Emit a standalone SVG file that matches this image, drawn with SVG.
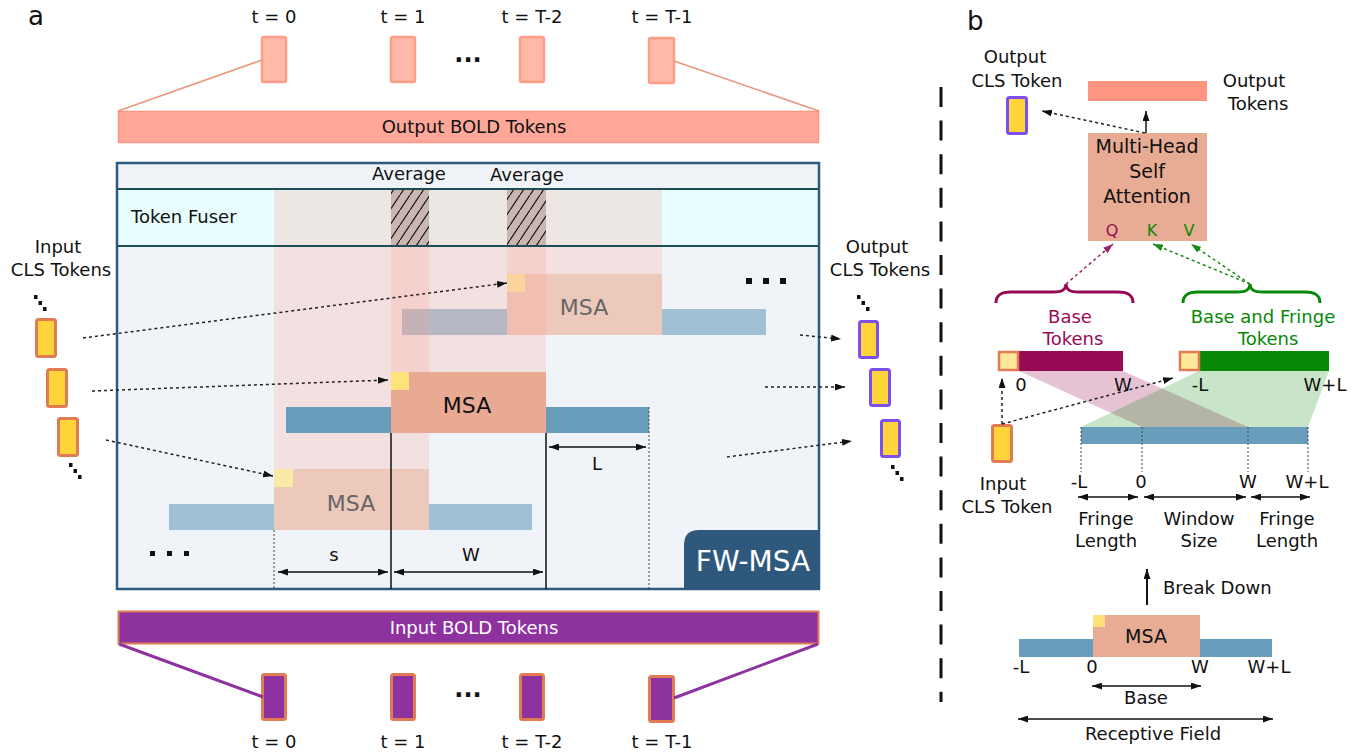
<svg xmlns="http://www.w3.org/2000/svg" width="1367" height="754" viewBox="0 0 1367 754">
<defs>
<style>
text{font-family:"DejaVu Sans",Verdana,sans-serif;font-size:18px;fill:#111;}
.c{text-anchor:middle}
.tokTop{fill:#ffb9a9;stroke:#ff9d88;stroke-width:2.5}
.tokIn{fill:#8e32a0;stroke:#e07b54;stroke-width:3}
.clsIn{fill:#ffd43b;stroke:#e07b54;stroke-width:3}
.clsOut{fill:#ffd43b;stroke:#7b4ff0;stroke-width:3}
.dot{fill:none;stroke:#222;stroke-width:1.5;stroke-dasharray:3 3}
.dim{fill:none;stroke:#111;stroke-width:1.5}
.vdot{fill:none;stroke:#444;stroke-width:1;stroke-dasharray:2 2}
.col{fill:#ff9a8c;fill-opacity:0.22}
.blue{fill:#689ebc}
.blueF{fill:#a2c0d3}
.msa{fill:#e8aa93}
.msaF{fill:#edc9bc}
.sq{fill:#111}
</style>
<marker id="ah" viewBox="0 0 10 7" refX="10" refY="3.5" markerWidth="10" markerHeight="7" markerUnits="userSpaceOnUse" orient="auto-start-reverse"><path d="M0,0 L10,3.5 L0,7 z" fill="#111"/></marker>
<marker id="ahP" viewBox="0 0 10 7" refX="10" refY="3.5" markerWidth="10" markerHeight="7" markerUnits="userSpaceOnUse" orient="auto"><path d="M0,0 L10,3.5 L0,7 z" fill="#a0206a"/></marker>
<marker id="ahG" viewBox="0 0 10 7" refX="10" refY="3.5" markerWidth="10" markerHeight="7" markerUnits="userSpaceOnUse" orient="auto"><path d="M0,0 L10,3.5 L0,7 z" fill="#1a8a1a"/></marker>
<pattern id="hatch" patternUnits="userSpaceOnUse" width="10" height="15"><rect width="10" height="15" fill="#c9b6b0"/><path d="M0,15 L10,0" stroke="#111" stroke-width="1.2"/></pattern>
</defs>
<rect width="1367" height="754" fill="#ffffff"/>

<!-- Panel a -->
<text x="28" y="25" style="font-size:26px">a</text>

<g id="output-time-tokens">
<rect class="tokTop" x="262" y="37" width="24" height="45" rx="2"/>
<rect class="tokTop" x="391" y="37" width="24" height="45" rx="2"/>
<rect class="tokTop" x="520" y="37" width="24" height="45" rx="2"/>
<rect class="tokTop" x="649" y="38" width="25" height="45" rx="2"/>
<text class="c" x="274" y="23">t = 0</text>
<text class="c" x="403" y="23">t = 1</text>
<text class="c" x="532" y="23">t = T-2</text>
<text class="c" x="662" y="23">t = T-1</text>
<text class="c" x="468" y="62" style="font-size:24px;font-weight:bold">...</text>
</g>

<g id="output-bold-tokens">
<rect x="118.5" y="111.5" width="700" height="31" fill="#ffa899" stroke="#ff9580" stroke-width="1.5"/>
<text class="c" x="474" y="133">Output BOLD Tokens</text>
</g>

<g id="fw-msa-block">
<rect x="117" y="163" width="702" height="426" fill="#f0f4f8"/>
<rect x="117" y="189" width="702" height="57" fill="#e8fdfd"/>
<!-- faded top MSA -->
<rect class="blueF" x="402" y="309" width="105" height="26"/>
<rect class="blueF" x="662" y="309" width="104" height="26"/>
<rect class="msaF" x="507" y="274" width="155" height="61"/>
<rect x="507" y="274" width="18" height="18" fill="#fbe3a0"/>
<!-- faded bottom MSA -->
<rect class="blueF" x="169" y="504" width="105" height="26"/>
<rect class="blueF" x="429" y="504" width="103" height="26"/>
<rect class="msaF" x="274" y="469" width="155" height="61"/>
<rect x="274" y="469" width="19" height="18" fill="#f9eaa8"/>
<!-- columns -->
<rect class="col" x="274" y="189" width="155" height="280"/>
<rect class="col" x="391" y="189" width="155" height="183"/>
<rect class="col" x="507" y="189" width="155" height="85"/>
<!-- middle MSA -->
<rect class="blue" x="286" y="407" width="105" height="26"/>
<rect class="blue" x="546" y="407" width="103" height="26"/>
<rect class="msa" x="391" y="372" width="155" height="61"/>
<rect x="391" y="372" width="18" height="18" fill="#ffe27a"/>
<!-- hatched averages -->
<rect x="391" y="189" width="38" height="57" fill="url(#hatch)"/>
<rect x="507" y="189" width="39" height="57" fill="url(#hatch)"/>
<rect x="117" y="189" width="702" height="57" fill="none" stroke="#1c4e55" stroke-width="2"/>
<rect x="117" y="163" width="702" height="426" fill="none" stroke="#2f5a7f" stroke-width="2.5"/>
<path d="M684,590 L684,545 Q684,530 699,530 L820,530 L820,590 Z" fill="#2e597c"/>
<text class="c" x="753" y="571" style="font-size:28px;fill:#ffffff">FW-MSA</text>
<text x="131" y="223">Token Fuser</text>
<text class="c" x="409" y="180">Average</text>
<text class="c" x="527" y="181">Average</text>
<text class="c" x="467" y="413" style="font-size:22px">MSA</text>
<text class="c" x="584" y="315" style="font-size:22px;fill:#666">MSA</text>
<text class="c" x="351" y="511" style="font-size:22px;fill:#666">MSA</text>
<rect class="sq" x="150" y="551" width="5" height="5"/>
<rect class="sq" x="167" y="551" width="5" height="5"/>
<rect class="sq" x="184" y="551" width="5" height="5"/>
<rect class="sq" x="746" y="278" width="6" height="6"/>
<rect class="sq" x="763" y="278" width="6" height="6"/>
<rect class="sq" x="780" y="278" width="6" height="6"/>
</g>

<g id="dimensions">
<line x1="391" y1="433" x2="391" y2="589" stroke="#111" stroke-width="1.5"/>
<line x1="546" y1="433" x2="546" y2="589" stroke="#111" stroke-width="1.5"/>
<line class="vdot" x1="274" y1="530" x2="274" y2="589"/>
<line class="vdot" x1="649" y1="407" x2="649" y2="589"/>
<line class="dim" x1="278" y1="572" x2="388" y2="572" marker-start="url(#ah)" marker-end="url(#ah)"/>
<line class="dim" x1="394" y1="572" x2="543" y2="572" marker-start="url(#ah)" marker-end="url(#ah)"/>
<line class="dim" x1="549" y1="447" x2="646" y2="447" marker-start="url(#ah)" marker-end="url(#ah)"/>
<text class="c" x="334" y="561">s</text>
<text class="c" x="471" y="561">W</text>
<text class="c" x="597" y="470">L</text>
</g>

<g id="input-cls-tokens">
<text class="c" x="58" y="253">Input</text>
<text class="c" x="61" y="276">CLS Tokens</text>
<rect class="sq" x="34" y="295" width="3.5" height="4"/>
<rect class="sq" x="38.5" y="301" width="3.5" height="4"/>
<rect class="sq" x="43" y="307" width="3.5" height="4"/>
<rect class="clsIn" x="36.5" y="319.5" width="19" height="37" rx="2"/>
<rect class="clsIn" x="47.5" y="369.5" width="19" height="37" rx="2"/>
<rect class="clsIn" x="58.5" y="418.5" width="19" height="37" rx="2"/>
<rect class="sq" x="69" y="463" width="3.5" height="4"/>
<rect class="sq" x="73.5" y="469" width="3.5" height="4"/>
<rect class="sq" x="78" y="475" width="3.5" height="4"/>
</g>

<g id="output-cls-tokens">
<text class="c" x="877" y="253">Output</text>
<text class="c" x="880" y="276">CLS Tokens</text>
<rect class="sq" x="857" y="295" width="3.5" height="4"/>
<rect class="sq" x="861.5" y="301" width="3.5" height="4"/>
<rect class="sq" x="866" y="307" width="3.5" height="4"/>
<rect class="clsOut" x="859.5" y="321.5" width="18" height="36" rx="2"/>
<rect class="clsOut" x="870.5" y="369.5" width="19" height="36" rx="2"/>
<rect class="clsOut" x="881.5" y="420.5" width="18" height="36" rx="2"/>
<rect class="sq" x="891" y="465" width="3.5" height="4"/>
<rect class="sq" x="895.5" y="471" width="3.5" height="4"/>
<rect class="sq" x="900" y="477" width="3.5" height="4"/>
</g>

<g id="input-bold-tokens">
<rect x="118.5" y="611.5" width="700" height="32" fill="#8e32a0" stroke="#e07b54" stroke-width="2"/>
<text class="c" x="474" y="634" style="fill:#ffffff">Input BOLD Tokens</text>
</g>

<g id="input-time-tokens">
<rect class="tokIn" x="262.5" y="674.5" width="23" height="45" rx="2"/>
<rect class="tokIn" x="391.5" y="674.5" width="23" height="45" rx="2"/>
<rect class="tokIn" x="520.5" y="674.5" width="23" height="45" rx="2"/>
<rect class="tokIn" x="649.5" y="676.5" width="24" height="45" rx="2"/>
<text class="c" x="274" y="748">t = 0</text>
<text class="c" x="403" y="748">t = 1</text>
<text class="c" x="532" y="748">t = T-2</text>
<text class="c" x="662" y="748">t = T-1</text>
<text class="c" x="468" y="697" style="font-size:24px;font-weight:bold">...</text>
</g>

<g id="connectors-a">
<line x1="262" y1="60" x2="118" y2="111" stroke="#e8967a" stroke-width="1.5"/>
<line x1="674" y1="61" x2="819" y2="111" stroke="#e8967a" stroke-width="1.5"/>
<line x1="119" y1="644" x2="263" y2="697" stroke="#8e32a0" stroke-width="3"/>
<line x1="818" y1="644" x2="674" y2="698" stroke="#8e32a0" stroke-width="3"/>
<line class="dot" x1="83" y1="338" x2="507" y2="283" marker-end="url(#ah)"/>
<line class="dot" x1="92" y1="391" x2="388" y2="380" marker-end="url(#ah)"/>
<line class="dot" x1="106" y1="440" x2="273" y2="476" marker-end="url(#ah)"/>
<line class="dot" x1="800" y1="335" x2="841" y2="339" marker-end="url(#ah)"/>
<line class="dot" x1="765" y1="387" x2="845" y2="387" marker-end="url(#ah)"/>
<line class="dot" x1="727" y1="457" x2="852" y2="441" marker-end="url(#ah)"/>
</g>

<line x1="941" y1="87" x2="941" y2="702" stroke="#111" stroke-width="3" stroke-dasharray="20 13.6"/>

<!-- Panel b -->
<text x="967" y="30" style="font-size:26px">b</text>

<g id="b-output-cls">
<text class="c" x="1015" y="63">Output</text>
<text class="c" x="1017" y="87">CLS Token</text>
<rect class="clsOut" x="1007.5" y="97.5" width="19" height="36" rx="2"/>
</g>

<g id="b-output-tokens">
<rect x="1088" y="81" width="119" height="20" fill="#ff9580"/>
<text class="c" x="1254" y="87">Output</text>
<text class="c" x="1258" y="110">Tokens</text>
</g>

<g id="b-mhsa">
<rect x="1088" y="133" width="119" height="108" fill="#e8ab94"/>
<text class="c" x="1147" y="153" style="font-size:19px">Multi-Head</text>
<text class="c" x="1147" y="178" style="font-size:19px">Self</text>
<text class="c" x="1147" y="203" style="font-size:19px">Attention</text>
<text class="c" x="1112" y="236" style="font-size:16px;fill:#970b55">Q</text>
<text class="c" x="1152" y="236" style="font-size:16px;fill:#078807">K</text>
<text class="c" x="1189" y="236" style="font-size:16px;fill:#078807">V</text>
</g>

<g id="b-base-tokens">
<path d="M996,303 C996,295 1001,292 1011,292 L1053,292 C1062,292 1066,290 1066,284 C1066,290 1070,292 1079,292 L1118,292 C1128,292 1133,295 1133,303" fill="none" stroke="#970b55" stroke-width="3"/>
<text class="c" x="1070" y="323" style="fill:#970b55">Base</text>
<text class="c" x="1073" y="345" style="fill:#970b55">Tokens</text>
</g>

<g id="b-fringe-tokens">
<path d="M1183,303 C1183,295 1188,292 1198,292 L1237,292 C1246,292 1250,290 1250,284 C1250,290 1254,292 1263,292 L1305,292 C1315,292 1320,295 1320,303" fill="none" stroke="#078807" stroke-width="3"/>
<text class="c" x="1263" y="323" style="fill:#078807">Base and Fringe</text>
<text class="c" x="1268" y="345" style="fill:#078807">Tokens</text>
</g>

<g id="b-breakdown">
<polygon points="1019,371 1123,371 1248,427 1142,427" fill="#970b55" fill-opacity="0.25"/>
<polygon points="1199,371 1329,371 1308,427 1081,427" fill="#078807" fill-opacity="0.22"/>
<rect x="1019" y="351" width="104" height="20" fill="#970b55"/>
<rect x="999" y="352" width="19" height="18" fill="#ffe79a" stroke="#e07b54" stroke-width="2.5"/>
<rect x="1199" y="351" width="130" height="20" fill="#078807"/>
<rect x="1180" y="352" width="19" height="18" fill="#ffe79a" stroke="#e07b54" stroke-width="2.5"/>
<text class="c" x="1021" y="391">0</text>
<text class="c" x="1123" y="391">W</text>
<text class="c" x="1200" y="391">-L</text>
<text class="c" x="1325" y="391">W+L</text>
<rect x="1081" y="427" width="227" height="17" fill="#689ebc"/>
<line class="vdot" x1="1081" y1="427" x2="1081" y2="472"/>
<line class="vdot" x1="1142" y1="427" x2="1142" y2="472"/>
<line class="vdot" x1="1248" y1="427" x2="1248" y2="472"/>
<line class="vdot" x1="1308" y1="427" x2="1308" y2="472"/>
<text class="c" x="1079" y="488">-L</text>
<text class="c" x="1141" y="488">0</text>
<text class="c" x="1248" y="488">W</text>
<text class="c" x="1307" y="488">W+L</text>
<line class="dim" x1="1078" y1="497" x2="1138" y2="497" marker-start="url(#ah)" marker-end="url(#ah)"/>
<line class="dim" x1="1144" y1="497" x2="1246" y2="497" marker-start="url(#ah)" marker-end="url(#ah)"/>
<line class="dim" x1="1251" y1="497" x2="1310" y2="497" marker-start="url(#ah)" marker-end="url(#ah)"/>
<text class="c" x="1106" y="525">Fringe</text>
<text class="c" x="1106" y="547">Length</text>
<text class="c" x="1199" y="525">Window</text>
<text class="c" x="1199" y="547">Size</text>
<text class="c" x="1287" y="525">Fringe</text>
<text class="c" x="1287" y="547">Length</text>
</g>

<g id="b-input-cls">
<rect class="clsIn" x="992.5" y="425.5" width="19" height="36" rx="2"/>
<text class="c" x="1003" y="490">Input</text>
<text class="c" x="1007" y="513">CLS Token</text>
</g>

<g id="b-msa">
<rect class="blue" x="1019" y="639" width="74" height="18"/>
<rect class="blue" x="1200" y="639" width="72" height="18"/>
<rect x="1093" y="615" width="107" height="42" fill="#e8ab94"/>
<rect x="1093" y="615" width="12" height="12" fill="#fde07a"/>
<text class="c" x="1146" y="643" style="font-size:19px">MSA</text>
<text class="c" x="1021" y="673">-L</text>
<text class="c" x="1092" y="673">0</text>
<text class="c" x="1200" y="673">W</text>
<text class="c" x="1269" y="673">W+L</text>
<line class="dim" x1="1092" y1="686" x2="1201" y2="686" marker-start="url(#ah)" marker-end="url(#ah)"/>
<text class="c" x="1146" y="704">Base</text>
<line class="dim" x1="1018" y1="719" x2="1273" y2="719" marker-start="url(#ah)" marker-end="url(#ah)"/>
<text class="c" x="1153" y="740">Receptive Field</text>
<text x="1163" y="594">Break Down</text>
</g>

<g id="connectors-b">
<line x1="1146" y1="133" x2="1146" y2="111" stroke="#111" stroke-width="1.5" marker-end="url(#ah)"/>
<line class="dot" x1="1145" y1="133" x2="1042" y2="111" marker-end="url(#ah)"/>
<line x1="1066" y1="284" x2="1113" y2="244" fill="none" stroke="#a0206a" stroke-width="1.5" stroke-dasharray="3 3" marker-end="url(#ahP)"/>
<line x1="1250" y1="284" x2="1153" y2="244" fill="none" stroke="#1a8a1a" stroke-width="1.5" stroke-dasharray="3 3" marker-end="url(#ahG)"/>
<line x1="1250" y1="284" x2="1191" y2="244" fill="none" stroke="#1a8a1a" stroke-width="1.5" stroke-dasharray="3 3" marker-end="url(#ahG)"/>
<line class="dot" x1="1002" y1="424" x2="1002" y2="378" marker-end="url(#ah)"/>
<line class="dot" x1="1002" y1="424" x2="1173" y2="378" marker-end="url(#ah)"/>
<line x1="1147" y1="605" x2="1147" y2="569" stroke="#111" stroke-width="2" marker-end="url(#ah)"/>
</g>
</svg>
